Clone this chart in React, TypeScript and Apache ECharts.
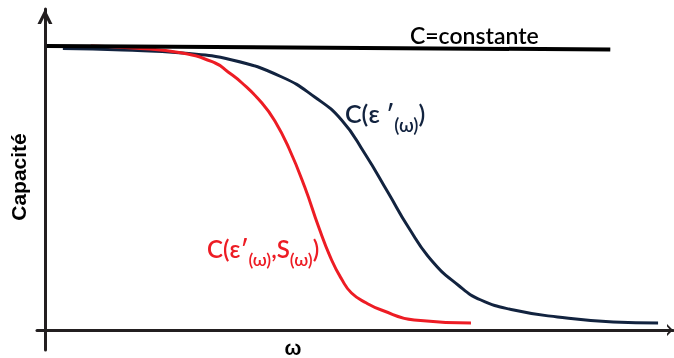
import React, { useEffect, useRef } from "react";
import * as echarts from "echarts";

// ω (horizontal) and capacity (vertical) in arbitrary units
const constX = [2, 568];
const constY = [284, 280.5];

const navyX = [18, 78, 138, 188, 238, 271, 298, 321, 345, 365, 388, 415, 438, 471, 515, 571, 616];
const navyY = [281.5, 280, 277, 270, 253, 233, 210, 177, 137, 103, 70, 45, 30, 20, 13, 8, 7];

const redX = [46, 88, 138, 171, 184, 198, 218, 231, 245, 261, 275, 288, 298, 308, 323, 338, 371, 428];
const redY = [284, 282, 277, 267, 258, 247, 227, 209, 182, 143, 103, 70, 51, 37, 27, 20, 10, 7];

const yName = "Capacité";
const xName = "ω";
const constLabel = "C=constante";

const zip = (xs: number[], ys: number[]) => xs.map((x, i) => [x, ys[i]]);

const arrowY = "path://M0,15 L7.5,0 L15,15 L11.5,15 L7.5,7 L3.5,15 Z";
const arrowX = "path://M0,7 L7,0 L14,7 L11,7 L7,3.2 L3,7 Z";

export default function App() {
  const ref = useRef<HTMLDivElement>(null);
  useEffect(() => {
    if (!ref.current) return;
    const chart = echarts.init(ref.current, null, { renderer: "svg" });
    const axisCommon = {
      type: "value" as const,
      axisTick: { show: false },
      axisLabel: { show: false },
      splitLine: { show: false },
    };
    chart.setOption({
      animation: false,
      grid: { left: 34, right: 1, top: 9, bottom: 8 },
      xAxis: {
        ...axisCommon,
        min: -8,
        max: 631,
        axisLine: {
          show: true,
          onZero: true,
          symbol: ["none", arrowX],
          symbolSize: [15, 6],
          symbolOffset: [0, -3],
          lineStyle: { color: "#231f20", width: 3 },
        },
      },
      yAxis: {
        ...axisCommon,
        min: -20,
        max: 321,
        name: yName,
        nameLocation: "middle",
        nameRotate: 90,
        nameGap: 8,
        nameTextStyle: {
          fontSize: 21,
          fontWeight: "bold",
          color: "#000",
          fontFamily: "Liberation Sans",
          padding: [0, 0, 0, 5],
        },
        axisLine: {
          show: true,
          onZero: true,
          symbol: ["none", arrowY],
          symbolSize: [15, 15],
          symbolOffset: [0, -7.5],
          lineStyle: { color: "#231f20", width: 3 },
        },
      },
      series: [
        {
          type: "line",
          data: zip(navyX, navyY),
          smooth: 0.5,
          showSymbol: false,
          lineStyle: { color: "#12233f", width: 3 },
        },
        {
          type: "line",
          data: zip(redX, redY),
          smooth: 0.5,
          showSymbol: false,
          lineStyle: { color: "#ed1c24", width: 3 },
        },
        {
          type: "line",
          data: zip(constX, constY),
          showSymbol: false,
          lineStyle: { color: "#000", width: 4 },
        },
      ],
      graphic: [
        {
          type: "text",
          x: 410,
          y: 35,
          style: {
            text: constLabel,
            fontFamily: "Lato",
            fontSize: 23,
            fontWeight: 600,
            fill: "#000",
            verticalAlign: "middle",
          },
        },
        {
          type: "text",
          x: 345,
          y: 113,
          style: {
            text: "{m|C(ε ′}{s|(ω)}{m|)}",
            fontFamily: "Lato",
            fill: "#12233f",
            verticalAlign: "middle",
            rich: {
              m: { fontSize: 25, fontFamily: "Lato", fontWeight: 600, fill: "#12233f" },
              s: { fontSize: 19, fontFamily: "Lato", fontWeight: 600, fill: "#12233f", padding: [22, 0, 0, 0] },
            },
          },
        },
        {
          type: "text",
          x: 207,
          y: 248,
          style: {
            text: "{m|C(ε′}{s|(ω)}{m|,S}{s|(ω)}{m|)}",
            fontFamily: "Lato",
            fill: "#ed1c24",
            verticalAlign: "middle",
            rich: {
              m: { fontSize: 24, fontFamily: "Lato", fontWeight: 600, fill: "#ed1c24" },
              s: { fontSize: 18, fontFamily: "Lato", fontWeight: 600, fill: "#ed1c24", padding: [22, 0, 0, 0] },
            },
          },
        },
        {
          type: "text",
          x: 293,
          y: 348,
          style: {
            text: xName,
            fontFamily: "Liberation Sans",
            fontWeight: "bold",
            fontSize: 20,
            fill: "#000",
            align: "center",
            verticalAlign: "middle",
          },
        },
      ],
    });
    return () => chart.dispose();
  }, []);
  return <div ref={ref} style={{ width: 674, height: 358, position: "fixed", left: 0, top: 0 }} />;
}
